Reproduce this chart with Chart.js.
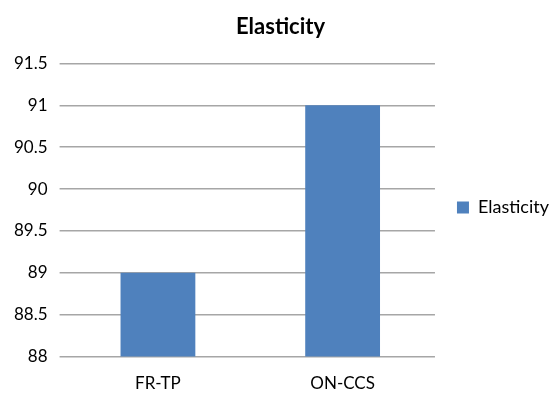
<!DOCTYPE html>
<html lang="en">
<head>
    <meta charset="UTF-8">
    <title>Elasticity</title>
    <script src="https://cdn.jsdelivr.net/npm/chart.js"></script>
    <style>
        html, body { margin: 0; padding: 0; background: #ffffff; }
        #elasticityChart { display: block; }
    </style>
</head>
<body>
    <canvas id="elasticityChart" width="560" height="396"></canvas>

    <script>
        // Datos del gráfico
        const categories = ['FR-TP', 'ON-CCS'];
        const elasticityValues = [89, 91];
        const seriesName = 'Elasticity';
        const yMin = 88;
        const yMax = 91.5;
        const yStep = 0.5;

        const ctx = document.getElementById('elasticityChart').getContext('2d');
        const chart = new Chart(ctx, {
            type: 'bar',
            data: {
                labels: categories,
                datasets: [{
                    label: seriesName,
                    data: elasticityValues,
                    backgroundColor: '#4f81bd',
                    borderWidth: 0,
                    barPercentage: 0.405,
                    categoryPercentage: 1
                }]
            },
            options: {
                responsive: false,
                animation: false,
                layout: { padding: { left: 2, right: 1, top: 4, bottom: -15 } },
                plugins: {
                    title: {
                        display: true,
                        text: 'Elasticity',
                        color: '#000000',
                        font: { family: 'Lato', size: 22, weight: 'bold' },
                        padding: { top: 10, bottom: 23 }
                    },
                    legend: {
                        position: 'right',
                        labels: {
                            boxWidth: 12,
                            boxHeight: 12,
                            color: '#000000',
                            font: { family: 'Lato', size: 18 },
                            padding: 22
                        }
                    },
                    tooltip: { enabled: false }
                },
                scales: {
                    x: {
                        grid: { display: false, drawTicks: false },
                        border: { display: false },
                        ticks: {
                            color: '#000000',
                            font: { family: 'Lato', size: 17 },
                            padding: 17
                        }
                    },
                    y: {
                        min: yMin,
                        max: yMax,
                        border: { display: false },
                        grid: { color: '#a6a6a6', lineWidth: 1.5, drawTicks: true, tickLength: 6 },
                        ticks: {
                            stepSize: yStep,
                            color: '#000000',
                            font: { family: 'Lato', size: 17 },
                            padding: 12,
                            callback: value => String(value)
                        }
                    }
                }
            }
        });
    </script>
</body>
</html>
